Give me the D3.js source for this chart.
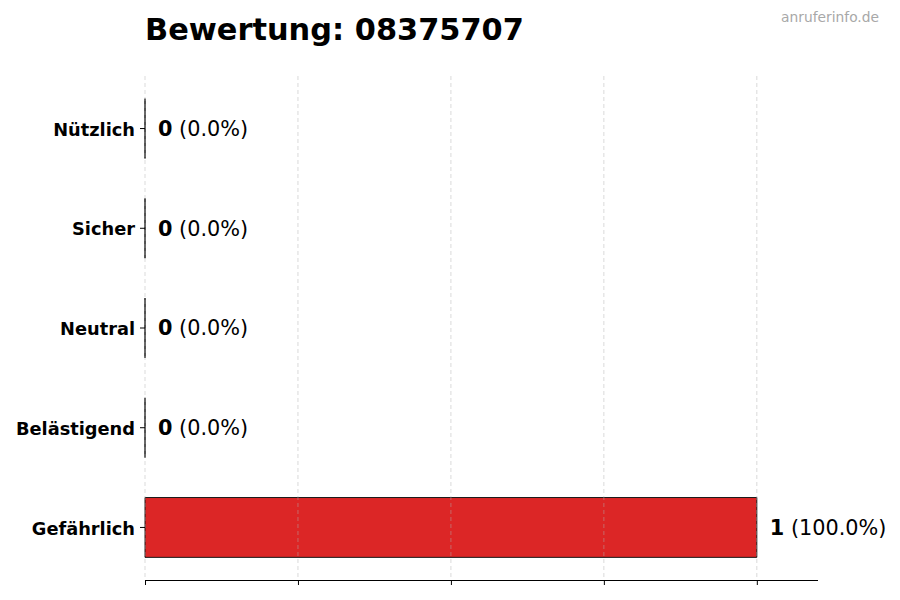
<!DOCTYPE html>
<html>
<head>
<meta charset="utf-8">
<script src="https://cdn.jsdelivr.net/npm/d3@7"></script>
<style>
  html, body { margin: 0; padding: 0; background: #fff; }
  svg { display: block; font-family: "DejaVu Sans", sans-serif; }
</style>
</head>
<body>
<div id="chart"></div>
<script>
'use strict';

// Data
const categories = ["Gefährlich", "Belästigend", "Neutral", "Sicher", "Nützlich"];
const counts = [1, 0, 0, 0, 0];
const barColors = ["#dc2626", "#f97316", "#9ca3af", "#22c55e", "#16a34a"];
const xTicks = [0, 0.25, 0.5, 0.75, 1.0];
const titleText = "Bewertung: 08375707";
const watermark = "anruferinfo.de";

const width = 900, height = 600;
const margin = { top: 76, right: 82, bottom: 20, left: 145 };
const total = d3.sum(counts);

const svg = d3.select("#chart").append("svg")
    .attr("width", width)
    .attr("height", height);

const innerW = width - margin.left - margin.right;
const innerH = height - margin.top - margin.bottom;

const chart = svg.append("g")
    .attr("transform", `translate(${margin.left},${margin.top})`);

// Scales
const xScale = d3.scaleLinear()
    .domain([0, 1.1])
    .range([0, innerW]);

// bottom category at the bottom
const yScale = d3.scaleBand()
    .domain(categories.slice().reverse())
    .range([0, innerH])
    .paddingInner(0.4)
    .paddingOuter(0.227);

const data = categories.map((c, i) => ({ cat: c, value: counts[i], color: barColors[i] }));

// Bars (outline as path so zero-width bars still show an edge)
const bars = chart.append("g").classed("bars", true);

bars.selectAll("rect.bar")
    .data(data.filter(d => d.value > 0))
    .join("rect")
    .classed("bar", true)
    .attr("x", xScale(0))
    .attr("y", d => yScale(d.cat))
    .attr("width", d => xScale(d.value) - xScale(0))
    .attr("height", yScale.bandwidth())
    .attr("fill", d => d.color);

bars.selectAll("path.edge")
    .data(data)
    .join("path")
    .classed("edge", true)
    .attr("d", d => {
        const x0 = xScale(0), x1 = xScale(d.value);
        const y0 = yScale(d.cat), y1 = y0 + yScale.bandwidth();
        return `M${x0},${y0}H${x1}V${y1}H${x0}Z`;
    })
    .attr("fill", "none")
    .attr("stroke", "#1a1a1a")
    .attr("stroke-width", 1);

// Grid (drawn above bars)
chart.append("g").classed("grid", true)
    .selectAll("line")
    .data(xTicks)
    .join("line")
    .attr("x1", d => xScale(d))
    .attr("x2", d => xScale(d))
    .attr("y1", 0)
    .attr("y2", innerH)
    .attr("stroke", "#b0b0b0")
    .attr("stroke-opacity", 0.6)
    .attr("stroke-width", 0.8)
    .attr("stroke-dasharray", "4 3");

// Axes
const axisX = chart.append("g")
    .attr("transform", `translate(0,${innerH})`)
    .call(d3.axisBottom(xScale).tickValues(xTicks).tickSize(5).tickFormat(""));
axisX.select(".domain").attr("stroke", "#000").attr("d", `M0,0.5H${innerW}`);
axisX.selectAll(".tick line").attr("stroke", "#000");

const axisY = chart.append("g")
    .call(d3.axisLeft(yScale).tickSize(5).tickPadding(5));
axisY.select(".domain").remove();
axisY.selectAll(".tick line").attr("stroke", "#000");
axisY.selectAll(".tick text")
    .attr("fill", "#000")
    .attr("dy", "0.4em")
    .attr("font-size", 17.8)
    .attr("font-weight", "bold")
    .attr("font-family", "DejaVu Sans, sans-serif");

// Value labels
const labels = chart.append("g").classed("labels", true)
    .selectAll("text")
    .data(data)
    .join("text")
    .attr("x", d => xScale(d.value) + 13)
    .attr("y", d => yScale(d.cat) + yScale.bandwidth() / 2)
    .attr("dy", "0.35em")
    .attr("font-size", 20.8)
    .attr("fill", "#000");

labels.append("tspan")
    .attr("font-weight", "bold")
    .text(d => d.value);
labels.append("tspan")
    .text(d => ` (${(total ? d.value / total * 100 : 0).toFixed(1)}%)`);

// Title and watermark
svg.append("text")
    .attr("x", margin.left)
    .attr("y", 40)
    .attr("font-size", 30.4)
    .attr("font-weight", "bold")
    .attr("fill", "#000")
    .text(titleText);

svg.append("text")
    .attr("x", 879)
    .attr("y", 22)
    .attr("text-anchor", "end")
    .attr("font-size", 13.8)
    .attr("fill", "#a8a8a8")
    .text(watermark);
</script>
</body>
</html>
